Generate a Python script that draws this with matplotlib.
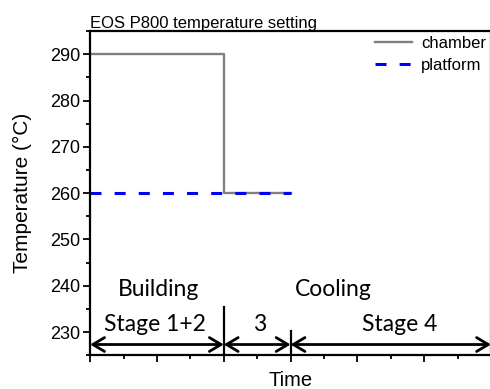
import matplotlib
matplotlib.use("Agg")
import matplotlib.pyplot as plt
from matplotlib.ticker import MultipleLocator, NullFormatter

# temperature schedule (stage boundaries on the time axis)
chamber_t = [0, 2, 2, 3]
chamber_T = [290, 290, 260, 260]
platform_t = [0, 3]
platform_T = [260, 260]

# stage arrows: (start, end)
stage_spans = [(0, 2), (2, 3), (3, 6)]
stage_labels = ["Stage 1+2", "3", "Stage 4"]
stage_label_x = [0.97, 2.53, 4.64]
phase_labels = ["Building", "Cooling"]
phase_label_x = [1.02, 3.64]
divider_x = [2, 3]
divider_top = [235.4, 230.3]

plt.rcParams['font.family'] = ['Liberation Sans', 'DejaVu Sans']
label_font = ['Lato', 'DejaVu Sans']

fig = plt.figure(figsize=(4.9, 3.89), dpi=100)
ax = fig.add_axes([0.184, 0.087, 0.818, 0.833])

ax.plot(chamber_t, chamber_T, color='#808080', lw=1.7, label='chamber')
ax.plot(platform_t, platform_T, color='#0000FF', lw=2.2, ls=(0, (3.6, 4.3)), label='platform')

for x, top in zip(divider_x, divider_top):
    ax.plot([x, x], [225, top], color='black', lw=1.6)

for (a, b) in stage_spans:
    ax.annotate('', xy=(a, 227.3), xytext=(b, 227.3),
                arrowprops=dict(arrowstyle='<->,head_length=0.42,head_width=0.25',
                                lw=2, color='black', shrinkA=0, shrinkB=0,
                                mutation_scale=20))

for lab, x in zip(stage_labels, stage_label_x):
    ax.text(x, 230.3, lab, ha='center', va='baseline', fontsize=16.5, family=label_font)
for lab, x in zip(phase_labels, phase_label_x):
    ax.text(x, 237.8, lab, ha='center', va='baseline', fontsize=16.5, family=label_font)

ax.set_xlim(0, 6)
ax.set_ylim(225, 295)
ax.yaxis.set_major_locator(MultipleLocator(10))
ax.yaxis.set_minor_locator(MultipleLocator(5))
ax.xaxis.set_major_locator(MultipleLocator(1))
ax.xaxis.set_minor_locator(MultipleLocator(0.5))
ax.xaxis.set_major_formatter(NullFormatter())
ax.tick_params(which='major', length=5, width=1.3, labelsize=13, pad=2)
ax.tick_params(which='minor', length=3, width=1.3)
for s in ax.spines.values():
    s.set_linewidth(1.6)

ax.set_ylabel('Temperature (°C)', fontsize=15, va='center')
ax.yaxis.set_label_coords(-0.17, 0.5)
ax.set_xlabel('Time', fontsize=14.5, va='center')
ax.xaxis.set_label_coords(0.5, -0.077)
ax.set_title('EOS P800 temperature setting', fontsize=12, loc='left', pad=1.5)

ax.legend(loc='upper right', frameon=False, fontsize=12, handlelength=2.2,
          handletextpad=0.55, labelspacing=0.42, borderpad=0, borderaxespad=0.3)

fig.savefig('out.png', dpi=100)
